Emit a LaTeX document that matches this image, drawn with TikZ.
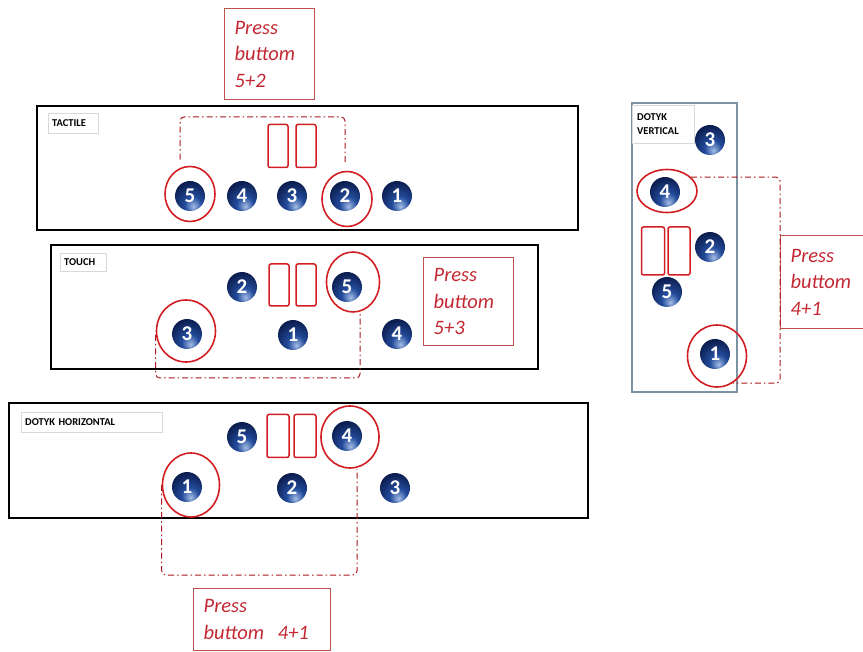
\documentclass[tikz,border=0pt]{standalone}
\usepackage{fontspec}
\setmainfont{Carlito}
\usepackage{tikz}
\usetikzlibrary{shapes.geometric}
\usepackage{xcolor}
\definecolor{btndark}{RGB}{12,30,80}
\definecolor{btnmid}{RGB}{35,75,155}
\definecolor{btnlight}{RGB}{165,190,230}
\definecolor{markred}{RGB}{210,30,35}
\definecolor{notered}{RGB}{195,40,50}
\definecolor{noteframe}{RGB}{190,80,80}
\definecolor{vframe}{RGB}{125,145,165}
\pgfdeclareradialshading{navyball}{\pgfpoint{6bp}{-18bp}}{color(0bp)=(btnlight); color(14bp)=(btnmid); color(34bp)=(btndark); color(80bp)=(btndark)}
\tikzstyle{panel} = [draw=black, line width=2pt]
\tikzset{
  button/.style={
    circle,
    shading=navyball,
    minimum size=30pt,
    inner sep=0pt,
    text=white,
    font=\fontsize{21}{21}\selectfont\bfseries
    },
  ring/.style={
    ellipse,
    draw=markred,
    line width=1.6pt,
    inner sep=0pt
    },
  digit/.style={
    rectangle,
    draw=markred,
    line width=1.5pt,
    rounded corners=2pt,
    minimum width=20pt,
    minimum height=43pt
    },
  tag/.style={
    rectangle,
    draw=black!15,
    fill=white,
    anchor=north west,
    align=left,
    inner xsep=4pt,
    inner ysep=2pt,
    font=\fontsize{10.5}{14}\selectfont\bfseries
    },
  note/.style={
    rectangle,
    draw=noteframe,
    line width=1.3pt,
    anchor=north west,
    align=left,
    inner xsep=10pt,
    text=notered,
    font=\fontsize{20.5}{26.5}\selectfont\itshape
    },
  bracket/.style={
    draw=markred!80!black,
    line width=1pt,
    dash pattern=on 6pt off 3pt on 1.5pt off 3pt,
    rounded corners=4pt
    },
}

\begin{document}
\begin{tikzpicture}[x=1pt, y=-1pt]
    \useasboundingbox (0,0) rectangle (863,652);

    % TACTILE panel
    \draw[panel] (37,106) rectangle (578,230);
    \node[tag, text width=42pt, minimum height=20pt] (T-tag) at (48,113) {TACTILE};
    \node[digit] (T-d1) at (278,146) {};
    \node[digit] (T-d2) at (306,146) {};
    \foreach \name / \x in {5/190, 4/242, 3/292, 2/345, 1/397}
        \node[button] (T-\name) at (\x,196) {\name};
    \node[ring, minimum width=50pt, minimum height=55pt] (T-r5) at (190,194) {};
    \node[ring, minimum width=50pt, minimum height=55pt] (T-r2) at (347,199) {};
    \node[note, text width=70pt, minimum height=91pt] (N-tactile) at (224,8) {Press\\buttom\\5+2};
    \coordinate (T-brk) at (260,117);
    \draw[bracket] ([xshift=-10pt,yshift=6pt]T-r5.north) |- (T-brk) -| ([xshift=-2pt,yshift=8pt]T-r2.north);

    % TOUCH panel
    \draw[panel] (51,245) rectangle (538,369);
    \node[tag, text width=38pt, minimum height=18pt] (C-tag) at (60,253) {TOUCH};
    \node[digit, minimum height=42pt] (C-d1) at (279,285) {};
    \node[digit, minimum height=42pt] (C-d2) at (306,285) {};
    \foreach \name / \x / \y in {2/242/287, 5/347/287, 3/187/334, 1/293/335, 4/397/334}
        \node[button] (C-\name) at (\x,\y) {\name};
    \node[ring, minimum width=53pt, minimum height=60pt] (C-r5) at (353,282) {};
    \node[ring, minimum width=59pt, minimum height=62pt] (C-r3) at (186,331) {};
    \node[note, text width=70pt, minimum height=88pt] (N-touch) at (423,257) {Press\\buttom\\5+3};
    \coordinate (C-brk) at (260,378);
    \draw[bracket] ([yshift=-4pt]C-r3.west) |- (C-brk) -| ([xshift=7pt]C-r5.south);

    % DOTYK HORIZONTAL panel
    \draw[panel] (9,403) rectangle (588,518);
    \node[tag, text width=133pt, minimum height=20pt] (H-tag) at (21,412) {DOTYK HORIZONTAL};
    \node[digit, minimum width=22pt] (H-d1) at (278,436) {};
    \node[digit, minimum width=22pt] (H-d2) at (305,436) {};
    \foreach \name / \x / \y in {5/242/437, 4/347/436, 1/187/487, 2/292/488, 3/395/488}
        \node[button] (H-\name) at (\x,\y) {\name};
    \node[ring, minimum width=58pt, minimum height=62pt] (H-r4) at (350,437) {};
    \node[ring, minimum width=57pt, minimum height=64pt] (H-r1) at (191,485) {};
    \node[note, text width=117pt, minimum height=62pt] (N-horiz) at (193,588) {Press\\buttom~~4+1};
    \coordinate (H-brk) at (260,575);
    \draw[bracket] (H-r1.west) |- (H-brk) -| ([xshift=7pt]H-r4.south);

    % DOTYK VERTICAL panel
    \draw[draw=vframe, line width=1.3pt] (632,103) rectangle (737,392);
    \node[tag, text width=52pt, minimum height=38pt, inner xsep=5pt] (V-tag) at (632,105) {DOTYK\\VERTICAL};
    \node[digit, minimum width=23pt, minimum height=48pt] (V-d1) at (653,251) {};
    \node[digit, minimum width=22pt, minimum height=48pt] (V-d2) at (679,251) {};
    \foreach \name / \x / \y in {3/710/140, 4/665/192, 2/710/247, 5/667/292, 1/715/354}
        \node[button] (V-\name) at (\x,\y) {\name};
    \node[ring, minimum width=60pt, minimum height=43pt] (V-r4) at (667,191) {};
    \node[ring, minimum width=59pt, minimum height=62pt] (V-r1) at (717,356) {};
    \node[note, text width=63pt, minimum height=93pt] (N-vert) at (780,235) {Press\\buttom\\4+1};
    \coordinate (V-brk) at (780,280);
    \draw[bracket] (V-r4.30) -| (V-brk) |- (V-r1.-60);
\end{tikzpicture}
\end{document}
